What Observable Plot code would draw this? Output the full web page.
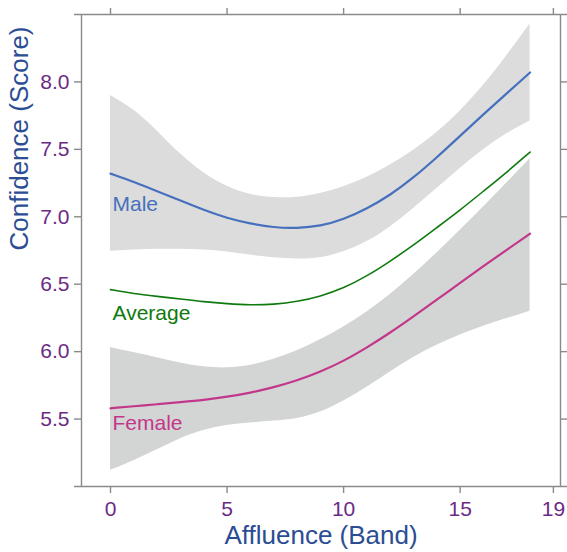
<!DOCTYPE html>
<html>
<head>
<meta charset="utf-8">
<script src="https://cdn.jsdelivr.net/npm/d3@7"></script>
<script src="https://cdn.jsdelivr.net/npm/@observablehq/plot@0.6"></script>
<style>
  html, body { margin: 0; padding: 0; background: #fff; }
  svg { display: block; }
</style>
</head>
<body>
<div id="chart"></div>
<script>
// ---- data ----
const affluence = [0, 1, 2, 3, 4, 5, 6, 7, 8, 9, 10, 11, 12, 13, 14, 15, 16, 17, 18];

const maleFit   = [7.32, 7.26, 7.19, 7.12, 7.05, 6.99, 6.95, 6.92, 6.915, 6.93, 6.98, 7.06, 7.16, 7.29, 7.44, 7.60, 7.76, 7.915, 8.07];
const maleUpper = [7.90, 7.80, 7.64, 7.46, 7.32, 7.22, 7.16, 7.14, 7.14, 7.17, 7.22, 7.29, 7.38, 7.49, 7.62, 7.78, 7.97, 8.19, 8.43];
const maleLower = [6.745, 6.755, 6.76, 6.76, 6.755, 6.74, 6.715, 6.695, 6.685, 6.69, 6.735, 6.81, 6.92, 7.06, 7.21, 7.36, 7.50, 7.62, 7.71];

const averageFit = [6.46, 6.43, 6.41, 6.39, 6.37, 6.355, 6.345, 6.35, 6.37, 6.41, 6.47, 6.56, 6.67, 6.79, 6.92, 7.05, 7.19, 7.33, 7.48];

const femaleFit   = [5.58, 5.595, 5.61, 5.625, 5.64, 5.665, 5.695, 5.735, 5.785, 5.85, 5.93, 6.03, 6.14, 6.26, 6.385, 6.51, 6.635, 6.755, 6.875];
const femaleUpper = [6.03, 5.995, 5.955, 5.915, 5.885, 5.875, 5.895, 5.94, 6.005, 6.085, 6.18, 6.29, 6.42, 6.57, 6.73, 6.90, 7.07, 7.25, 7.43];
const femaleLower = [5.12, 5.19, 5.27, 5.36, 5.42, 5.455, 5.47, 5.485, 5.50, 5.545, 5.63, 5.735, 5.85, 5.96, 6.05, 6.125, 6.19, 6.245, 6.30];

const seriesNames = ["Male", "Average", "Female"];
const labelX = [0, 0, 0];
const labelY = [7.09, 6.287, 5.468];

const xTicks = [0, 5, 10, 15, 19];
const yTicks = [5.5, 6.0, 6.5, 7.0, 7.5, 8.0];
const xDomain = [-1.244, 19.305];
const yDomain = [5.0, 8.5];

const xTitle = "Affluence (Band)";
const yTitle = "Confidence (Score)";

// ---- styles ----
const colMale = "#4670bd";
const colAvg = "#0e7a0e";
const colFemale = "#c3378a";
const tickCol = "#6c2a86";
const titleCol = "#2b4d94";
const axisCol = "#8a8a8a";
const font = "Liberation Sans, Arial, Helvetica, sans-serif";

const rows = affluence.map((x, i) => ({
  x,
  male: maleFit[i], mHi: maleUpper[i], mLo: maleLower[i],
  avg: averageFit[i],
  female: femaleFit[i], fHi: femaleUpper[i], fLo: femaleLower[i]
}));
const labels = seriesNames.map((name, i) => ({name, x: labelX[i], y: labelY[i]}));
const labelColors = [colMale, colAvg, colFemale];
const curve = "basis";

const chart = Plot.plot({
  width: 567,
  height: 552,
  marginLeft: 81,
  marginRight: 7,
  marginTop: 14,
  marginBottom: 66,
  style: {fontFamily: font, background: "#fff"},
  x: {domain: xDomain, axis: null},
  y: {domain: yDomain, axis: null},
  marks: [
    Plot.areaY(rows, {x: "x", y1: "mLo", y2: "mHi", fill: "#dcdcdc", curve}),
    Plot.areaY(rows, {x: "x", y1: "fLo", y2: "fHi", fill: "#d3d5d5", curve}),
    Plot.lineY(rows, {x: "x", y: "male", stroke: colMale, strokeWidth: 2.2, curve}),
    Plot.lineY(rows, {x: "x", y: "avg", stroke: colAvg, strokeWidth: 1.6, curve}),
    Plot.lineY(rows, {x: "x", y: "female", stroke: colFemale, strokeWidth: 2.2, curve}),
    Plot.text(labels, {
      x: "x", y: "y", text: "name", textAnchor: "start", dx: 2,
      fill: (d) => labelColors[seriesNames.indexOf(d.name)],
      fontSize: 21, fontFamily: font
    }),
    // frame
    Plot.ruleY(yDomain, {stroke: axisCol, strokeWidth: 1.4, insetLeft: -7, insetRight: -7}),
    Plot.ruleX(xDomain, {stroke: axisCol, strokeWidth: 1.4}),
    // axes
    Plot.axisX({anchor: "bottom", ticks: xTicks, tickSize: 7, tickPadding: 8, stroke: axisCol, strokeWidth: 1.4,
      fill: tickCol, fontSize: 21, tickFormat: d3.format("d"), label: null}),
    Plot.axisX({anchor: "top", ticks: xTicks, tickSize: 7, stroke: axisCol, strokeWidth: 1.4,
      tickFormat: () => "", label: null}),
    Plot.axisY({anchor: "left", ticks: yTicks, tickSize: 7, tickPadding: 5, stroke: axisCol, strokeWidth: 1.4,
      fill: tickCol, fontSize: 21, tickFormat: d3.format(".1f"), label: null}),
    Plot.axisY({anchor: "right", ticks: yTicks, tickSize: 7, stroke: axisCol, strokeWidth: 1.4,
      tickFormat: () => "", label: null}),
    // titles
    Plot.text([xTitle], {frameAnchor: "bottom", lineAnchor: "bottom", dy: 57, fill: titleCol, fontSize: 26, fontFamily: font}),
    Plot.text([yTitle], {frameAnchor: "left", rotate: -90, dx: -62, fill: titleCol, fontSize: 26, fontFamily: font})
  ]
});
document.getElementById("chart").appendChild(chart);
</script>
</body>
</html>
